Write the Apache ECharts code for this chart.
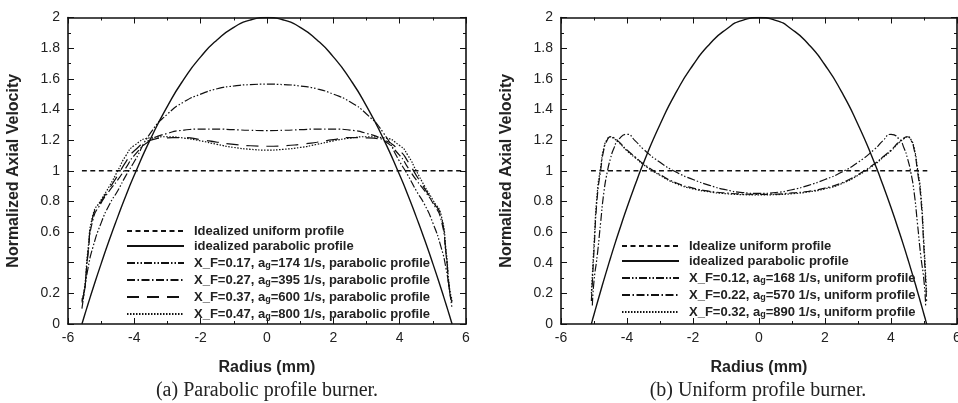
<!DOCTYPE html>
<html>
<head>
<meta charset="utf-8">
<script src="https://cdn.jsdelivr.net/npm/echarts@6/dist/echarts.min.js"></script>
<style>
html,body{margin:0;padding:0;background:#fff;}
#c{width:958px;height:403px;}
</style>
</head>
<body>
<div id="c"></div>
<script>
// ---------- Panel (a): parabolic profile burner ----------
const radiusA = [-5.58, -5.5, -5.4, -5.25, -5, -4.75, -4.5, -4.25, -4, -3.5, -3, -2.5, -2, -1.5, -1, -0.5, 0,
                 0.5, 1, 1.5, 2, 2.5, 3, 3.5, 4, 4.25, 4.5, 4.75, 5, 5.25, 5.4, 5.5, 5.58];
const uniformA_r = [-5.58, 5.93];
const uniformA_v = [1, 1];
const parabolicA = [0, 0.057, 0.127, 0.23, 0.394, 0.551, 0.699, 0.84, 0.972, 1.213, 1.422, 1.599, 1.743, 1.855, 1.936, 1.984, 2,
                    1.984, 1.936, 1.855, 1.743, 1.599, 1.422, 1.213, 0.972, 0.84, 0.699, 0.551, 0.394, 0.23, 0.127, 0.057, 0];
const xf017 = [0.1, 0.22, 0.36, 0.5, 0.66, 0.78, 0.87, 0.97, 1.06, 1.25, 1.37, 1.45, 1.5, 1.535, 1.553, 1.562, 1.565,
               1.562, 1.553, 1.535, 1.5, 1.45, 1.37, 1.25, 1.06, 0.97, 0.87, 0.78, 0.66, 0.5, 0.36, 0.22, 0.1];
const xf027 = [0.14, 0.22, 0.45, 0.68, 0.79, 0.87, 0.94, 1.02, 1.1, 1.2, 1.244, 1.265, 1.272, 1.272, 1.268, 1.264, 1.262,
               1.264, 1.268, 1.272, 1.272, 1.265, 1.244, 1.2, 1.1, 1.02, 0.94, 0.87, 0.79, 0.68, 0.45, 0.22, 0.14];
const xf037 = [0.15, 0.23, 0.46, 0.7, 0.8, 0.885, 0.97, 1.06, 1.13, 1.2, 1.215, 1.216, 1.203, 1.186, 1.172, 1.163, 1.16,
               1.163, 1.172, 1.186, 1.203, 1.216, 1.215, 1.2, 1.13, 1.06, 0.97, 0.885, 0.8, 0.7, 0.46, 0.23, 0.15];
const xf047 = [0.16, 0.24, 0.48, 0.71, 0.81, 0.9, 1.0, 1.1, 1.165, 1.215, 1.222, 1.213, 1.195, 1.172, 1.152, 1.14, 1.135,
               1.14, 1.152, 1.172, 1.195, 1.213, 1.222, 1.215, 1.165, 1.1, 1.0, 0.9, 0.81, 0.71, 0.48, 0.24, 0.16];

// ---------- Panel (b): uniform profile burner ----------
const radiusB = [-5.08, -5.05, -5.0, -4.9, -4.8, -4.7, -4.6, -4.5, -4.4, -4.25, -4.0, -3.75, -3.5, -3.0, -2.5, -2.0, -1.5, -1.0, -0.5, 0,
                 0.5, 1.0, 1.5, 2.0, 2.5, 3.0, 3.5, 3.75, 4.0, 4.25, 4.4, 4.5, 4.6, 4.7, 4.8, 4.9, 5.0, 5.05, 5.08];
const uniformB_r = [-5.09, 5.1];
const uniformB_v = [1, 1];
const parabolicB = [0, 0.024, 0.062, 0.139, 0.214, 0.288, 0.36, 0.431, 0.5, 0.6, 0.76, 0.91, 1.051, 1.302, 1.516, 1.69, 1.826, 1.922, 1.981, 2,
                    1.981, 1.922, 1.826, 1.69, 1.516, 1.302, 1.051, 0.91, 0.76, 0.6, 0.5, 0.431, 0.36, 0.288, 0.214, 0.139, 0.062, 0.024, 0];
const xf012 = [null, 0.12, 0.28, 0.45, 0.66, 0.86, 0.99, 1.08, 1.145, 1.205, 1.238, 1.195, 1.14, 1.055, 0.99, 0.943, 0.905, 0.876, 0.858, 0.852,
               0.858, 0.876, 0.905, 0.943, 0.99, 1.055, 1.14, 1.195, 1.238, 1.205, 1.145, 1.08, 0.99, 0.86, 0.66, 0.45, 0.28, 0.12, null];
const xf022 = [0.15, 0.27, 0.48, 0.83, 1.0, 1.14, 1.2, 1.222, 1.215, 1.19, 1.135, 1.09, 1.045, 0.975, 0.92, 0.887, 0.866, 0.855, 0.848, 0.846,
               0.848, 0.855, 0.866, 0.887, 0.92, 0.975, 1.045, 1.09, 1.135, 1.19, 1.215, 1.222, 1.2, 1.14, 1.0, 0.83, 0.48, 0.27, 0.15];
const xf032 = [0.2, 0.32, 0.52, 0.86, 1.02, 1.15, 1.205, 1.222, 1.21, 1.185, 1.13, 1.085, 1.04, 0.97, 0.915, 0.882, 0.862, 0.85, 0.844, 0.842,
               0.844, 0.85, 0.862, 0.882, 0.915, 0.97, 1.04, 1.085, 1.13, 1.185, 1.21, 1.222, 1.205, 1.15, 1.02, 0.86, 0.52, 0.32, 0.2];

// ---------- Labels ----------
const namesA = ['Idealized uniform profile', 'idealized parabolic profile',
  'X_F=0.17, a_g=174 1/s, parabolic profile', 'X_F=0.27, a_g=395 1/s, parabolic profile',
  'X_F=0.37, a_g=600 1/s, parabolic profile', 'X_F=0.47, a_g=800 1/s, parabolic profile'];
const namesB = ['Idealize uniform profile', 'idealized parabolic profile',
  'X_F=0.12, a_g=168 1/s, uniform profile', 'X_F=0.22, a_g=570 1/s, uniform profile',
  'X_F=0.32, a_g=890 1/s, uniform profile'];
const xTickLabels = ['-6', '-4', '-2', '0', '2', '4', '6'];
const yTickLabelsA = ['0', '0.2', '', '0.6', '0.8', '1', '1.2', '1.4', '1.6', '1.8', '2'];
const yTickLabelsB = ['0', '0.2', '0.4', '0.6', '0.8', '1', '1.2', '1.4', '1.6', '1.8', '2'];
const xTitle = 'Radius (mm)';
const yTitle = 'Normalized Axial Velocity';
const captions = ['(a) Parabolic profile burner.', '(b) Uniform profile burner.'];

// ---------- Build ----------
const INK = '#111';
const SANS = '"Liberation Sans", Arial, sans-serif';
function pairs(xs, ys) { return xs.map((x, i) => [x, ys[i]]); }

const dashStyles = {
  uniform: [5, 3.5],
  solid: 'solid',
  dd: [8, 2, 1.5, 2, 1.5, 2],
  dashdot: [8, 2.5, 1.5, 2.5],
  longdash: [12, 8],
  dot: [1.5, 1.5]
};

function lineSeries(name, data, grid, type, width) {
  return {
    type: 'line', name: name, data: data,
    xAxisIndex: grid * 2, yAxisIndex: grid * 2,
    symbol: 'none', showSymbol: false, smooth: 0.6,
    lineStyle: { color: INK, width: width || 1.2, type: type },
    itemStyle: { color: INK },
    emphasis: { disabled: true },
    animation: false, z: 3
  };
}

function axesFor(grid, yLabels) {
  const axLine = { show: true, onZero: false, lineStyle: { color: INK, width: 1.6 } };
  const tick = { inside: true, length: 6, lineStyle: { color: INK, width: 1 } };
  const minor = { show: true, splitNumber: 2, length: 3, lineStyle: { color: INK, width: 1 } };
  const xs = [
    { gridIndex: grid, type: 'value', position: 'bottom', min: -6, max: 6, interval: 2,
      axisLine: axLine, axisTick: tick, minorTick: minor, splitLine: { show: false },
      axisLabel: { margin: 7, fontSize: 14, color: '#222', fontFamily: SANS,
        formatter: v => xTickLabels[Math.round((v + 6) / 2)] },
      name: xTitle, nameLocation: 'middle', nameGap: 36,
      nameTextStyle: { fontSize: 16, fontWeight: 'bold', color: '#222', fontFamily: SANS } },
    { gridIndex: grid, type: 'value', position: 'top', min: -6, max: 6, interval: 2,
      axisLine: axLine, axisTick: tick, minorTick: minor, splitLine: { show: false },
      axisLabel: { show: false } }
  ];
  const ys = [
    { gridIndex: grid, type: 'value', position: 'left', min: 0, max: 2, interval: 0.2,
      axisLine: axLine, axisTick: tick, minorTick: minor, splitLine: { show: false },
      axisLabel: { margin: 8, fontSize: 14, color: '#222', fontFamily: SANS,
        formatter: v => yLabels[Math.round(v / 0.2)] },
      name: yTitle, nameLocation: 'middle', nameGap: 46,
      nameTextStyle: { fontSize: 16, fontWeight: 'bold', color: '#222', fontFamily: SANS } },
    { gridIndex: grid, type: 'value', position: 'right', min: 0, max: 2, interval: 0.2,
      axisLine: axLine, axisTick: tick, minorTick: minor, splitLine: { show: false },
      axisLabel: { show: false } }
  ];
  return { xs, ys };
}

const axA = axesFor(0, yTickLabelsA);
const axB = axesFor(1, yTickLabelsB);

const series = [
  lineSeries(namesA[0], pairs(uniformA_r, uniformA_v), 0, dashStyles.uniform, 1.3),
  lineSeries(namesA[1], pairs(radiusA, parabolicA), 0, dashStyles.solid, 1.4),
  lineSeries(namesA[2], pairs(radiusA, xf017), 0, dashStyles.dd, 1.2),
  lineSeries(namesA[3], pairs(radiusA, xf027), 0, dashStyles.dashdot, 1.2),
  lineSeries(namesA[4], pairs(radiusA, xf037), 0, dashStyles.longdash, 1.2),
  lineSeries(namesA[5], pairs(radiusA, xf047), 0, dashStyles.dot, 1.2),
  lineSeries(namesB[0], pairs(uniformB_r, uniformB_v), 1, dashStyles.uniform, 1.3),
  lineSeries(namesB[1], pairs(radiusB, parabolicB), 1, dashStyles.solid, 1.4),
  lineSeries(namesB[2], pairs(radiusB, xf012), 1, dashStyles.dd, 1.2),
  lineSeries(namesB[3], pairs(radiusB, xf022), 1, dashStyles.dashdot, 1.2),
  lineSeries(namesB[4], pairs(radiusB, xf032), 1, dashStyles.dot, 1.2)
];

function legendFor(names, left, top) {
  return {
    orient: 'vertical', left: left, top: top, padding: 0, itemGap: 0,
    itemWidth: 57, itemHeight: 15, selectedMode: false,
    data: names,
    itemStyle: { opacity: 0 },
    formatter: n => n.replace('a_g', 'a{g|g}'),
    textStyle: {
      fontSize: 13, fontWeight: 'bold', color: '#222', fontFamily: SANS,
      lineHeight: 15, padding: [0, 0, 0, 5],
      rich: { g: { fontSize: 9, fontWeight: 'bold', color: '#222', fontFamily: SANS,
                   lineHeight: 15, padding: [8, 0, 0, 0], verticalAlign: 'bottom' } }
    }
  };
}

const chart = echarts.init(document.getElementById('c'), null, { renderer: 'canvas' });
chart.setOption({
  animation: false,
  backgroundColor: '#fff',
  grid: [
    { left: 68, top: 17.5, width: 398, height: 306.5, containLabel: false, outerBoundsMode: 'none' },
    { left: 561, top: 17.5, width: 396, height: 306.5, containLabel: false, outerBoundsMode: 'none' }
  ],
  xAxis: axA.xs.concat(axB.xs),
  yAxis: axA.ys.concat(axB.ys),
  legend: [legendFor(namesA, 126, 223.5), legendFor(namesB, 621, 238.5)],
  series: series,
  graphic: [
    { type: 'text', x: 267, y: 391,
      style: { text: captions[0], font: '20px "Liberation Serif", serif', fill: '#222',
               textAlign: 'center', textVerticalAlign: 'middle' } },
    { type: 'text', x: 758, y: 391,
      style: { text: captions[1], font: '20px "Liberation Serif", serif', fill: '#222',
               textAlign: 'center', textVerticalAlign: 'middle' } }
  ]
});
</script>
</body>
</html>
